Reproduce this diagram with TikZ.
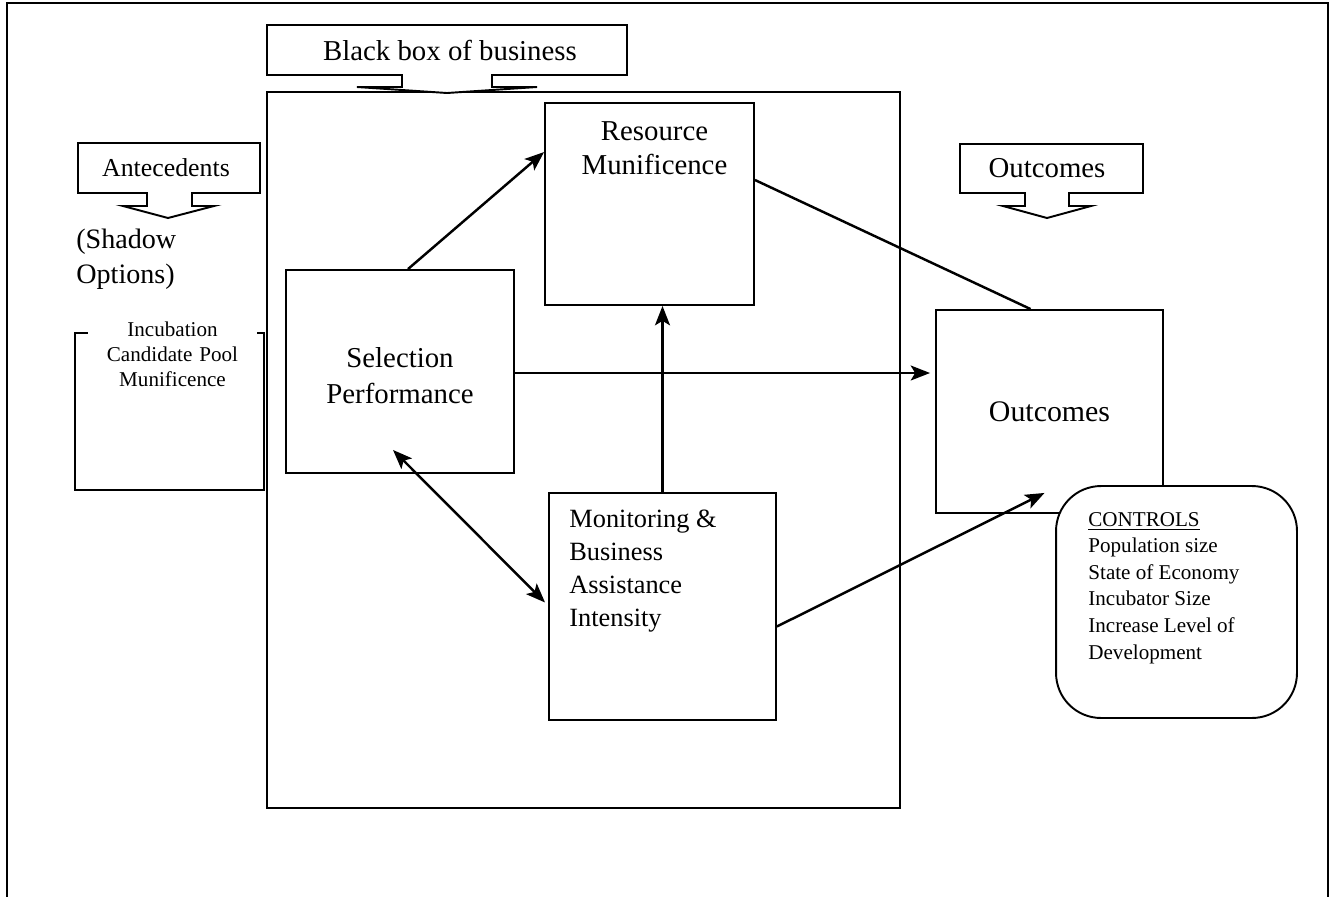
\documentclass[tikz,border=0pt]{standalone}
\usepackage{fontspec}
\setmainfont{Liberation Serif}
\usetikzlibrary{arrows.meta, positioning, calc}

\begin{document}
\begin{tikzpicture}[x=0.02cm, y=-0.02cm,
  >={Stealth[length=11pt, width=8.5pt, inset=2.5pt]},
  box/.style={draw, line width=1.1pt, inner sep=0pt},
  lbl/.style={inner sep=0pt, font=\fontsize{16}{19.5}\selectfont},
  small/.style={inner sep=0pt, font=\fontsize{12}{14.5}\selectfont},
  callout/.style={draw, line width=1.1pt, fill=white},
  link/.style={line width=1.4pt, ->},
]
  \useasboundingbox (0,0) rectangle (1335,896);

  % Page frame (open at the bottom)
  \draw[line width=1.3pt] (7,900) -- (7,3) -- (1328,3) -- (1328,900);

  % Black box of business
  \node[box, minimum width=12.66cm, minimum height=14.32cm] (bbox) at (583.5,450) {};

  % Callouts
  \draw[callout] (267,25) -- (627,25) -- (627,75) -- (492,75) -- (492,87) -- (537,87)
    -- (447,93) -- (357,87) -- (402,87) -- (402,75) -- (267,75) -- cycle;
  \node[lbl, font=\fontsize{16.4}{19}\selectfont] (bbtitle) at (450,50) {Black box of business};

  \draw[callout] (78,143) -- (260,143) -- (260,193) -- (192,193) -- (192,206) -- (214,206)
    -- (168,218) -- (123,206) -- (147,206) -- (147,193) -- (78,193) -- cycle;
  \node[lbl, font=\fontsize{14.7}{17}\selectfont] (antetitle) at (166,168) {Antecedents};

  \draw[callout] (960,144) -- (1143,144) -- (1143,193) -- (1069,193) -- (1069,206) -- (1091,206)
    -- (1047,218) -- (1003,206) -- (1025,206) -- (1025,193) -- (960,193) -- cycle;
  \node[lbl, font=\fontsize{16.4}{19}\selectfont] (outtitle) at (1047,168) {Outcomes};

  % Antecedents
  \node[lbl, align=left, anchor=north west] (shadow) at (76,229) {(Shadow\\Options)};
  \node[box, minimum width=3.78cm, minimum height=3.14cm] (inc) at (169.5,411.5) {};
  \node[small, fill=white, text width=3.38cm, align=center, anchor=north] (inctxt)
    at ($(inc.north)+(3,-11)$) {Incubation\\Candidate Pool\\Munificence};

  % Inside the black box
  \node[box, minimum width=4.56cm, minimum height=4.06cm] (sel) at (400,371.5) {};
  \node[lbl, font=\fontsize{16.4}{20.4}\selectfont, align=center] (seltxt)
    at ($(sel.center)+(0,4)$) {Selection\\Performance};
  \node[box, minimum width=4.18cm, minimum height=4.04cm] (res) at (649.5,204) {};
  \node[lbl, font=\fontsize{16.4}{19.5}\selectfont, align=center,
    below=0.38cm of res.north, xshift=0.1cm] (restxt) {Resource\\Munificence};
  \node[box, minimum width=4.54cm, minimum height=4.54cm] (mon) at (662.5,606.5) {};
  \node[lbl, font=\fontsize{15}{18.7}\selectfont, align=left,
    below right=0.35cm and 0.42cm of mon.north west] (montxt)
    {Monitoring \&\\Business\\Assistance\\Intensity};

  % Outcomes
  \node[box, font=\fontsize{17}{20}\selectfont, minimum width=4.54cm, minimum height=4.06cm] (out)
    at (1049.5,411.5) {Outcomes};

  % Links
  \draw[link] ($(sel.north)+(8,0)$) -- ($(res.north west)+(0,50)$);
  \draw[link] (mon.north) -- (mon.north |- res.south);
  \draw[link, <->] ($(sel.south)+(-7,-24)$) -- ($(mon.west)+(-3,-4)$);
  \draw[link] ($(sel.east)+(0,1.5)$) -- ($(sel.east -| out.west)+(-5,1.5)$);
  \draw[line width=1.4pt] ($(res.east)+(0,-24)$) -- ($(out.north)+(-19,0)$);
  \draw[link] ($(mon.east)+(0,20)$) -- ($(out.south)+(-5,-21)$);

  % Controls
  \node[box, fill=white, rounded corners=0.9cm, minimum width=4.82cm, minimum height=4.64cm] (ctrl)
    at (1176.5,602) {};
  \node[small, font=\fontsize{12}{15.1}\selectfont, align=left,
    below right=0.54cm and 0.66cm of ctrl.north west] (ctrltxt)
    {\underline{CONTROLS}\\Population size\\State of Economy\\Incubator Size\\Increase Level of\\Development};
\end{tikzpicture}
\end{document}
